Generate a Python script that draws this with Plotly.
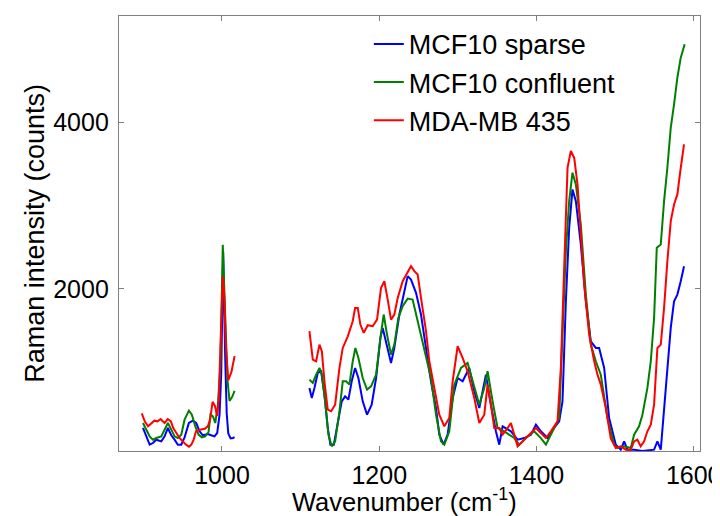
import plotly.graph_objects as go

# ---- data (wavenumber cm^-1, Raman counts); None separates the two recorded windows ----
sparse_x = [899.5, 903.7, 908, 912.2, 916.4, 922.8, 927, 931.2, 935.5, 939.7, 943.9, 948.2, 952.4, 957.9, 963,
            967.2, 971.5, 975.7, 982, 986.3, 990.5, 993.9, 996.9, 999, 1001.5, 1004, 1006, 1008, 1011, 1014, 1016,
            None,
            1111.2, 1114.2, 1117.6, 1121.8, 1126.1, 1130.3, 1134.5, 1137.9, 1142.2, 1147.3, 1152.3, 1156.6, 1160.8,
            1165, 1169.3, 1173.5, 1179, 1184.5, 1190.4, 1196, 1201.5, 1204.4, 1209.9, 1215, 1219.2, 1225.6, 1232,
            1236.2, 1240.4, 1246.8, 1253.1, 1259.5, 1265.8, 1272.2, 1276.4, 1281.9, 1287, 1293.4, 1299.7, 1306.1,
            1314.5, 1320.9, 1327.3, 1335.7, 1341.2, 1348.4, 1352.7, 1356.9, 1361.1, 1367.5, 1376, 1384.4, 1392.9,
            1399.3, 1405.6, 1414.1, 1422.5, 1428.9, 1433.1, 1437.4, 1441.6, 1445.8, 1450.1, 1456.4, 1462.8, 1469.1,
            1475.5, 1479.7, 1486.1, 1492.4, 1500.9, 1507.2, 1511.5, 1515.7, 1524.2, 1534.8, 1549.6, 1553.8, 1558.1,
            1562.3, 1566.5, 1570.8, 1575, 1579.2, 1583.5, 1587.7]
sparse_y = [325, 224, 124, 144, 184, 164, 224, 325, 237, 184, 124, 124, 212, 385, 413,
            385, 285, 237, 253, 237, 224, 265, 486, 968, 2450, 1200, 500, 260, 200, 205, 215,
            None,
            807, 686, 807, 988, 1008, 726, 325, 124, 124, 365, 646, 706, 666,
            887, 1048, 927, 646, 486, 606, 927, 1410, 1530, 1289, 1108, 1289, 1691, 1972,
            2153, 2112, 1952, 1691, 1289, 887, 566, 244, 124, 245, 686, 927, 887,
            1048, 767, 566, 967, 646, 285, 124, 345, 325, 285, 184, 204, 245,
            365, 285, 204, 325, 405, 646, 1851, 2735, 3197, 3056, 2534, 1851, 1369,
            1289, 1289, 1048, 445, 124, 64, 164, 64, 64, 48, 64, 164, 64,
            525, 1008, 1530, 1851, 1931, 2092, 2273]

confluent_x = [899.5, 903.7, 908, 912.2, 916.4, 922.8, 927, 931.2, 935.5, 939.7, 943.9, 948.2, 952.4, 957.9, 961.7,
               966, 970.2, 974.4, 978.7, 982.9, 985.4, 988.4, 991.4, 994.8, 998, 1001, 1004, 1007, 1009.6, 1013, 1016,
               None,
               1111.2, 1115.5, 1119.7, 1124, 1127, 1131.2, 1135.4, 1139.6, 1143.9, 1149.4, 1153.6, 1157.8, 1162.1,
               1166.3, 1169.7, 1173.5, 1179, 1184.5, 1189.6, 1196, 1201.5, 1205.7, 1209.9, 1215, 1219.2, 1224.3,
               1229.8, 1236.2, 1242.5, 1248.9, 1257.4, 1265.8, 1272.2, 1278.5, 1282.8, 1289.1, 1295.5, 1304, 1312.4,
               1318.8, 1327.3, 1333.6, 1337.8, 1344.2, 1350.5, 1359, 1365.4, 1371.7, 1378.1, 1386.6, 1397.1, 1405.6,
               1412, 1420.4, 1428.9, 1433.1, 1437.4, 1441.6, 1445.8, 1450.1, 1456.4, 1462.8, 1469.1, 1475.5, 1481.8,
               1490.3, 1498.8, 1503, 1511.5, 1519.9, 1524.2, 1530.5, 1534.8, 1541.1, 1545.4, 1549.6, 1553, 1558.1,
               1562.3, 1566.5, 1570.8, 1575, 1579.2, 1583.5, 1588.5]
confluent_y = [385, 305, 224, 184, 204, 224, 305, 385, 305, 224, 204, 245, 425, 534, 486,
               345, 245, 212, 224, 277, 486, 466, 385, 606, 1088, 2530, 1700, 900, 650, 700, 771,
               None,
               907, 867, 967, 1048, 967, 646, 244, 104, 164, 526, 887, 887, 847,
               1128, 1289, 1168, 927, 787, 827, 967, 1410, 1691, 1450, 1209, 1329, 1650,
               1791, 1883, 1871, 1610, 1249, 927, 485, 164, 124, 285, 847, 1048, 1108,
               887, 606, 807, 1008, 646, 325, 285, 245, 204, 124, 204, 285, 204,
               124, 285, 445, 1450, 2454, 3056, 3398, 3257, 2775, 1932, 1329, 1128, 967,
               445, 124, 84, 104, 84, 245, 345, 485, 807, 1128, 1650, 2494, 2534,
               3056, 3458, 3940, 4221, 4542, 4783, 4944]

mda_x = [898, 902, 906, 910, 914, 918, 922, 924, 927, 931, 935, 938, 942, 946, 950, 954, 958, 961, 964, 967,
         972, 978, 982, 985, 988, 991, 994, 996, 998, 1001, 1003, 1005, 1008, 1012, 1016,
         None,
         1111.2, 1115.5, 1119.7, 1124, 1127, 1130.3, 1134.5, 1138.8, 1143.9, 1149.4, 1153.6, 1160, 1166.3,
         1169.3, 1172.7, 1176, 1180.3, 1185.4, 1191.7, 1197.2, 1202.3, 1206.5, 1210.8, 1215, 1219.2, 1223.5,
         1229.8, 1234.1, 1240.4, 1244.7, 1248.9, 1253, 1259.5, 1263.7, 1270, 1276.4, 1282.8, 1289.1, 1293.4,
         1299.7, 1306.1, 1312.4, 1320.9, 1327.3, 1333.6, 1337.8, 1342.1, 1346.3, 1352.7, 1356.9, 1363.3, 1367.5,
         1371.7, 1376, 1382.3, 1390.8, 1399.3, 1405.6, 1412, 1418.3, 1426.8, 1431, 1435.3, 1439.5, 1443.7, 1448,
         1452.2, 1456.4, 1460.7, 1467, 1473.4, 1477.6, 1481.8, 1488.2, 1494.5, 1500.9, 1507.2, 1513.6, 1519.9,
         1524.2, 1528.4, 1532.6, 1536.9, 1541.1, 1545.4, 1549.6, 1553.8, 1558.1, 1562.3, 1566.5, 1570.8, 1575,
         1579.2, 1583.5, 1587.7]
mda_y = [500, 400, 345, 380, 413, 405, 433, 413, 385, 433, 405, 325, 265, 205, 165, 125, 100, 125, 185, 285,
         305, 315, 345, 430, 640, 590, 470, 690, 1300, 2150, 1900, 1300, 900, 1000, 1190,
         None,
         1490, 1148, 1128, 1329, 1249, 887, 546, 526, 606, 1048, 1289, 1429, 1610,
         1771, 1771, 1570, 1470, 1562, 1550, 1630, 2012, 2092, 1871, 1630, 1691, 1891,
         2092, 2173, 2273, 2213, 2173, 1900, 1490, 1128, 807, 485, 345, 445, 887,
         1309, 1168, 1007, 686, 385, 485, 847, 606, 325, 325, 245, 325, 385,
         245, 104, 164, 245, 325, 264, 204, 285, 405, 1048, 2253, 3458, 3659, 3578,
         3257, 2655, 2052, 1450, 1128, 967, 847, 566, 200, 84, 104, 64, 64,
         164, 184, 104, 164, 285, 365, 606, 1289, 1329, 1771, 2333, 2815, 3016,
         3137, 3458, 3739]

series_names = ["MCF10 sparse", "MCF10 confluent", "MDA-MB 435"]
series_colors = ["#0000FF", "#008000", "#FF0000"]
x_ticks = [1000, 1200, 1400, 1600]
y_ticks = [2000, 4000]
x_title = "Wavenumber (cm<sup>-1</sup>)"
y_title = "Raman intensity (counts)"

FONT = "Liberation Sans, Arial, sans-serif"

fig = go.Figure()
for name, color, xs, ys in zip(series_names, series_colors,
                               [sparse_x, confluent_x, mda_x],
                               [sparse_y, confluent_y, mda_y]):
    fig.add_trace(go.Scatter(x=xs, y=ys, mode="lines", name=name,
                             line=dict(color=color, width=2), connectgaps=False))

axis_common = dict(showline=True, linecolor="#808080", linewidth=1.3, mirror="allticks",
                   ticks="inside", ticklen=5, tickcolor="#808080", tickwidth=1.3,
                   showgrid=False, zeroline=False, automargin=False,
                   tickfont=dict(family=FONT, size=25, color="black"))

fig.update_layout(
    width=720, height=516,
    margin=dict(l=111, r=28, t=8, b=73),
    paper_bgcolor="white", plot_bgcolor="white",
    font=dict(family=FONT, size=25, color="black"),
    xaxis=dict(range=[869, 1608], tickvals=x_ticks, ticklabelstandoff=2, **axis_common),
    yaxis=dict(range=[48, 5285], tickvals=y_ticks, ticklabelstandoff=4, **axis_common),
    legend=dict(x=0.43, y=0.991, xanchor="left", yanchor="top",
                bgcolor="rgba(0,0,0,0)", borderwidth=0,
                font=dict(family=FONT, size=27, color="black"), tracegroupgap=0),
    showlegend=True,
    annotations=[
        dict(text=x_title, xref="paper", yref="paper", x=0.4914, y=-0.155,
             xanchor="center", yanchor="bottom", showarrow=False,
             font=dict(family=FONT, size=25.5, color="black")),
        dict(text=y_title, xref="paper", yref="paper", x=-0.146, y=0.5,
             xanchor="center", yanchor="middle", textangle=-90, showarrow=False,
             font=dict(family=FONT, size=27, color="black")),
    ],
)

fig.write_html("out.html")
